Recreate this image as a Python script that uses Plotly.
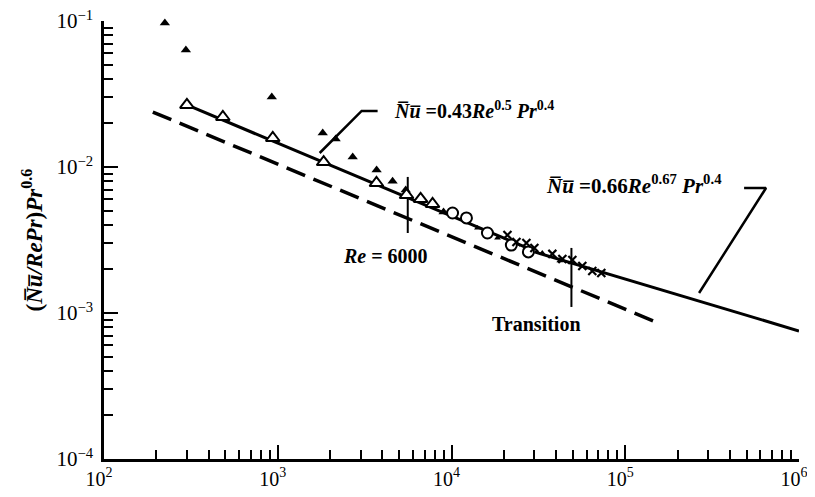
import plotly.graph_objects as go

# ---- data ----
filled_re = [224, 296, 924, 1815, 2154, 2700, 3707, 4581, 5450, 9000]
filled_y = [0.097, 0.0633, 0.0302, 0.0171, 0.01556, 0.0117, 0.00953, 0.0080, 0.00695, 0.00492]

small_filled_re = [14100, 18400, 33300, 42000]
small_filled_y = [0.00382, 0.00327, 0.00258, 0.00228]

open_tri_re = [300, 483, 936, 1837, 3700, 5510, 6640, 7780]
open_tri_y = [0.0266, 0.022, 0.0158, 0.0108, 0.00777, 0.00643, 0.00604, 0.00558]

circle_re = [10140, 12190, 16100, 22100, 27700]
circle_y = [0.00484, 0.00448, 0.00353, 0.00292, 0.00262]

cross_re = [20990, 23650, 26980, 29990, 38050, 43450, 49600, 56600, 64600, 72800]
cross_y = [0.00342, 0.00306, 0.00302, 0.00279, 0.00254, 0.00234, 0.00231, 0.00210, 0.00194, 0.00188]

laminar_re = [300, 30000]
laminar_y = [0.0266, 0.00266]

turb_re = [30000, 83200, 1000000]
turb_y = [0.00262, 0.00182, 0.000753]

dashed_re = [191, 150000]
dashed_y = [0.0238, 0.000868]

re6000_re = [5600, 5600]
re6000_y = [0.00855, 0.00353]

trans_re = [49000, 49000]
trans_y = [0.00279, 0.0011]

leader1_re = [1743, 3040, 3756]
leader1_y = [0.01247, 0.0242, 0.0242]

leader2_re = [266000, 646000, 483000]
leader2_y = [0.00137, 0.00718, 0.00718]

x_tickvals = [1e2, 1e3, 1e4, 1e5, 1e6]
x_ticktext = ["10<sup>2</sup>", "10<sup>3</sup>", "10<sup>4</sup>", "10<sup>5</sup>", "10<sup>6</sup>"]
y_tickvals = [1e-4, 1e-3, 1e-2, 1e-1]
y_ticktext = ["10<sup>\u22124</sup>", "10<sup>\u22123</sup>", "10<sup>\u22122</sup>", "10<sup>\u22121</sup>"]

SERIF = "Liberation Serif"
OL = "\u0305"
NU = "N" + OL + "u" + OL

fig = go.Figure()

def line(x, y, width=3, dash=None):
    fig.add_trace(go.Scatter(x=x, y=y, mode="lines", hoverinfo="skip",
                             line=dict(color="black", width=width, dash=dash)))

line(dashed_re, dashed_y, width=3.5, dash="20px,9px")
line(laminar_re, laminar_y, width=3)
line(turb_re, turb_y, width=3)
line(re6000_re, re6000_y, width=2)
line(trans_re, trans_y, width=2)
line(leader1_re, leader1_y, width=2.5)
line(leader2_re, leader2_y, width=2.5)

fig.add_trace(go.Scatter(x=filled_re, y=filled_y, mode="markers", cliponaxis=False,
                         marker=dict(symbol="triangle-up", size=9, color="black")))
fig.add_trace(go.Scatter(x=small_filled_re, y=small_filled_y, mode="markers",
                         marker=dict(symbol="triangle-up", size=6, color="black")))
fig.add_trace(go.Scatter(x=open_tri_re, y=open_tri_y, mode="markers",
                         marker=dict(symbol="triangle-up", size=12, color="white",
                                     line=dict(color="black", width=2))))
fig.add_trace(go.Scatter(x=circle_re, y=circle_y, mode="markers",
                         marker=dict(symbol="circle", size=11, color="white",
                                     line=dict(color="black", width=2))))
fig.add_trace(go.Scatter(x=cross_re, y=cross_y, mode="markers",
                         marker=dict(symbol="x-thin", size=8, color="black",
                                     line=dict(color="black", width=2.2))))

axis_common = dict(
    type="log", showline=True, linecolor="black", linewidth=2.5,
    ticks="inside", tickwidth=2, tickcolor="black", ticklen=14,
    showgrid=False, zeroline=False, automargin=False,
    ticklabeloverflow="allow",
    minor=dict(ticks="inside", ticklen=9, tickwidth=2, tickcolor="black",
               dtick="D1", showgrid=False),
)

# the page body keeps its 8px default margin, so the figure is sized to fit
# inside the window without scrollbars
fig.update_layout(
    width=807, height=481,
    margin=dict(l=96, r=16, t=13, b=30),
    plot_bgcolor="white", paper_bgcolor="white",
    showlegend=False,
    xaxis=dict(range=[2, 6], tickvals=x_tickvals, ticktext=x_ticktext,
               ticklabelshift=-5,
               tickfont=dict(family=SERIF, size=20, color="black"), **axis_common),
    yaxis=dict(range=[-4, -1], tickvals=y_tickvals, ticktext=y_ticktext,
               ticklabelstandoff=4,
               tickfont=dict(family=SERIF, size=21, color="black"), **axis_common),
)

tf = dict(family=SERIF, size=20, color="black")
fig.add_annotation(x=3.655, y=-1.610, xref="x", yref="y", xanchor="left", showarrow=False,
                   text="<b><i>" + NU + "</i> =0.43<i>Re</i><sup>0.5</sup> <i>Pr</i><sup>0.4</sup></b>",
                   font=tf)
fig.add_annotation(x=4.534, y=-2.123, xref="x", yref="y", xanchor="left", showarrow=False,
                   text="<b><i>" + NU + "</i> =0.66<i>Re</i><sup>0.67</sup> <i>Pr</i><sup>0.4</sup></b>",
                   font=dict(family=SERIF, size=21, color="black"))
fig.add_annotation(x=3.621, y=-2.610, xref="x", yref="y", showarrow=False,
                   text="<b><i>Re</i> = 6000</b>", font=tf)
fig.add_annotation(x=4.491, y=-3.075, xref="x", yref="y", showarrow=False,
                   text="<b>Transition</b>", font=tf)
fig.add_annotation(x=-0.103, y=0.5, xref="paper", yref="paper", showarrow=False,
                   textangle=-90, xanchor="center", yanchor="middle",
                   text="<b>(<i>" + NU + "/RePr</i>)<i>Pr</i><sup>0.6</sup></b>",
                   font=dict(family=SERIF, size=23, color="black"))

fig.write_html("out.html")
